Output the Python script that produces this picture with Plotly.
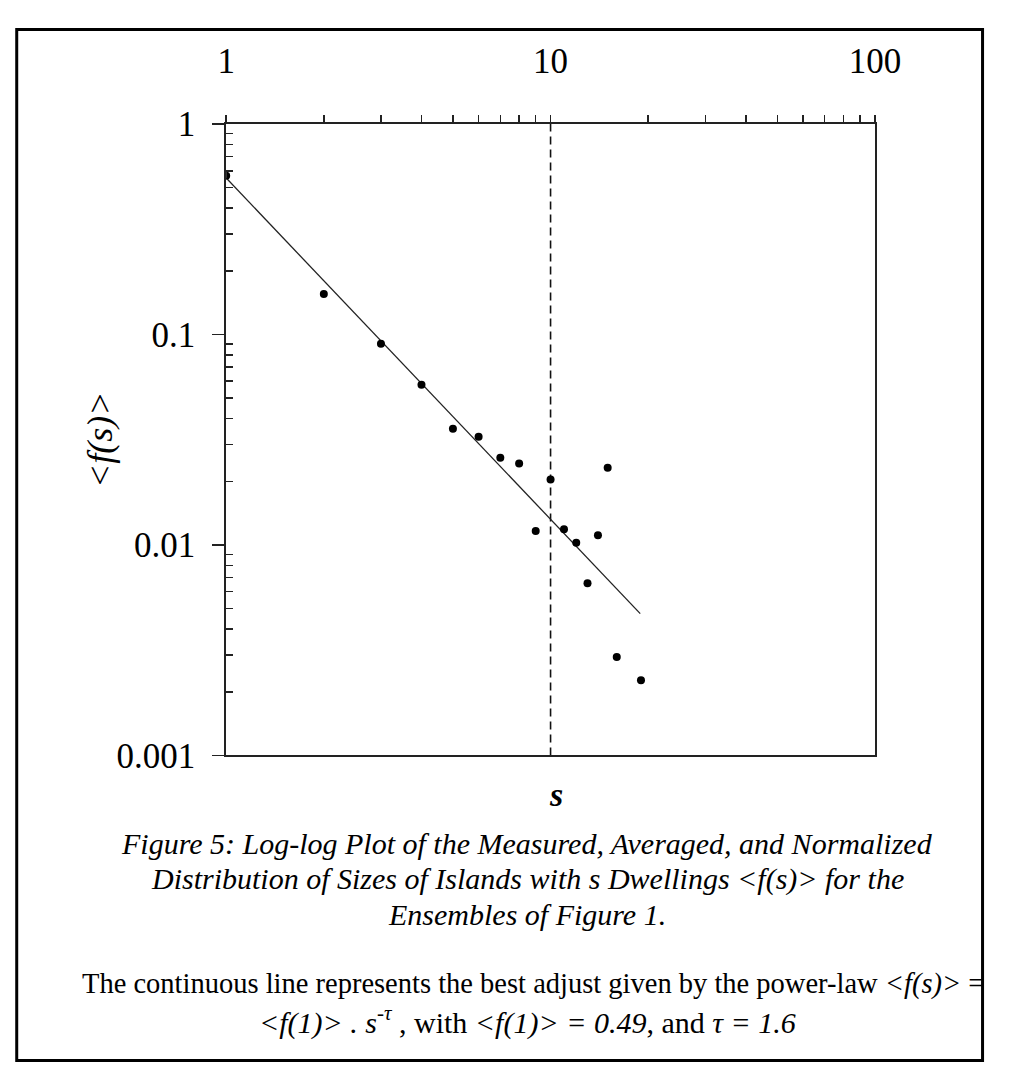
import plotly.graph_objects as go

# ---- data ----
s_values = [1, 2, 3, 4, 5, 6, 7, 8, 9, 10, 11, 12, 13, 14, 15, 16, 19]
f_values = [0.568, 0.156, 0.0903, 0.0578, 0.0357, 0.0327, 0.0260, 0.0244, 0.01166,
            0.0205, 0.01188, 0.01024, 0.00658, 0.01114, 0.0233, 0.00294, 0.00228]
fit_s = [1, 18.9]
fit_f = [0.554, 0.00472]
ref_s = 10
y_limits = [0.001, 1]
x_tickvals = [1, 10, 100]
x_ticktext = ["1", "10", "100"]
y_tickvals = [0.001, 0.01, 0.1, 1]
y_ticktext = ["0.001", "0.01", "0.1", "1"]

W, H = 1010, 1082
FONT = "Liberation Serif"

def px(x):
    return x / W

def py(y):
    return 1 - y / H

fig = go.Figure()
fig.add_trace(go.Scatter(x=[ref_s, ref_s], y=y_limits, mode="lines",
                         line=dict(color="#111", width=1.6, dash="8px,5px"),
                         hoverinfo="skip", showlegend=False))
fig.add_trace(go.Scatter(x=fit_s, y=fit_f, mode="lines",
                         line=dict(color="#222", width=1.3), showlegend=False))
fig.add_trace(go.Scatter(x=s_values, y=f_values, mode="markers",
                         marker=dict(color="#000", size=8, symbol="circle"),
                         showlegend=False))

minor_x = [m * 10 ** d for d in range(2) for m in range(2, 10)]
minor_y = [m * 10.0 ** d for d in range(-3, 0) for m in range(2, 10)]

fig.update_layout(
    width=W, height=H, margin=dict(l=0, r=0, t=0, b=0),
    paper_bgcolor="white", plot_bgcolor="white",
    font=dict(family=FONT, color="#000"),
    xaxis=dict(type="log", range=[0, 2], side="top",
               domain=[px(225), px(897)], anchor="y",
               showline=True, linecolor="#222", linewidth=2, mirror=True,
               ticks="outside", ticklen=7, tickwidth=1.5, tickcolor="#222",
               tickvals=x_tickvals, ticktext=x_ticktext,
               tickfont=dict(family=FONT, size=35, color="#000"),
               ticklabelstandoff=28,
               minor=dict(tickvals=minor_x, ticks="outside", ticklen=7,
                          tickwidth=1.5, tickcolor="#222", showgrid=False),
               showgrid=False, zeroline=False),
    yaxis=dict(type="log", range=[-3, 0],
               domain=[py(764), py(109)], anchor="x",
               showline=True, linecolor="#222", linewidth=2, mirror=True,
               ticks="outside", ticklen=12, tickwidth=1.5, tickcolor="#222",
               tickvals=y_tickvals, ticktext=y_ticktext,
               tickfont=dict(family=FONT, size=35, color="#000"),
               ticklabelstandoff=10,
               minor=dict(tickvals=minor_y, ticks="inside", ticklen=7,
                          tickwidth=1.5, tickcolor="#222", showgrid=False),
               showgrid=False, zeroline=False),
    shapes=[dict(type="rect", xref="paper", yref="paper",
                 x0=px(8), x1=px(1008.5), y0=py(1080.5), y1=py(11),
                 line=dict(color="#000", width=3), fillcolor="rgba(0,0,0,0)")],
)

annots = [
    dict(text="<b><i>s</i></b>", x=px(567), y=py(804), size=34),
    dict(text="<i>Figure 5: Log-log Plot of the Measured, Averaged, and Normalized</i>",
         x=px(537), y=py(855), size=30),
    dict(text="<i>Distribution of Sizes of Islands with s Dwellings &lt;f(s)&gt; for the</i>",
         x=px(537), y=py(892), size=30),
    dict(text="<i>Ensembles of Figure 1.</i>", x=px(537), y=py(929), size=30),
    dict(text="The continuous line represents the best adjust given by the power-law <i>&lt;f(s)&gt;</i> =",
         x=px(543), y=py(1001), size=28.5),
    dict(text="<i>&lt;f(1)&gt; . s<sup>-τ</sup></i> , with <i>&lt;f(1)&gt; = 0.49</i>, and <i>τ = 1.6</i>",
         x=px(537), y=py(1039), size=30),
]
for a in annots:
    fig.add_annotation(text=a["text"], x=a["x"], y=a["y"], xref="paper", yref="paper",
                       xanchor="center", yanchor="middle", showarrow=False,
                       font=dict(family=FONT, size=a["size"], color="#000"))

fig.add_annotation(text="<i>&lt;f(s)&gt;</i>", x=px(95), y=py(436), xref="paper", yref="paper",
                   xanchor="center", yanchor="middle", showarrow=False, textangle=-90,
                   font=dict(family=FONT, size=36, color="#000"))

fig.write_html("out.html",
               config={"displayModeBar": False, "staticPlot": True},
               post_script="document.body.style.margin='0';document.body.style.overflow='hidden';")
